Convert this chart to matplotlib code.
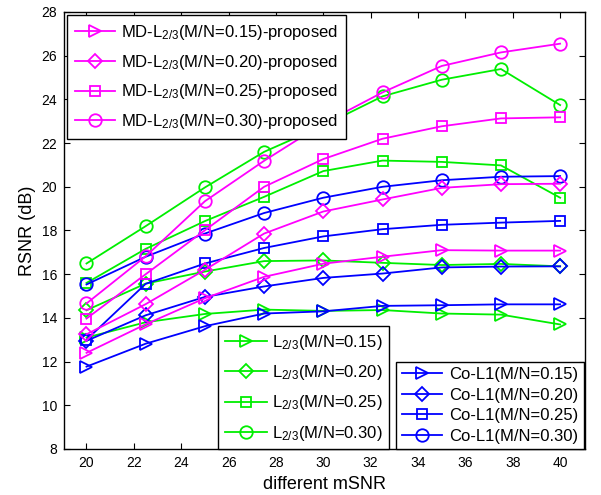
import matplotlib
matplotlib.use("Agg")
import matplotlib.pyplot as plt

plt.rcParams['font.family'] = ['Liberation Sans', 'DejaVu Sans']
plt.rcParams['mathtext.default'] = 'regular'

msnr = [20, 22.5, 25, 27.5, 30, 32.5, 35, 37.5, 40]
ratios = ['0.15', '0.20', '0.25', '0.30']
markers = ['>', 'D', 's', 'o']

# MD-L2/3 proposed (magenta)
md_015 = [12.4, 13.71, 14.9, 15.88, 16.48, 16.8, 17.1, 17.08, 17.08]
md_020 = [13.25, 14.63, 16.2, 17.86, 18.87, 19.42, 19.95, 20.12, 20.14]
md_025 = [13.97, 16.0, 18.01, 20.0, 21.27, 22.2, 22.77, 23.13, 23.18]
md_030 = [14.66, 16.82, 19.34, 21.19, 22.9, 24.32, 25.53, 26.15, 26.55]
# L2/3 (green)
l_015 = [13.1, 13.8, 14.18, 14.38, 14.32, 14.36, 14.2, 14.15, 13.7]
l_020 = [14.35, 15.57, 16.12, 16.6, 16.63, 16.52, 16.42, 16.47, 16.36]
l_025 = [15.6, 17.16, 18.43, 19.54, 20.72, 21.2, 21.14, 20.98, 19.5]
l_030 = [16.49, 18.2, 19.97, 21.6, 22.8, 24.14, 24.9, 25.39, 23.74]
# Co-L1 (blue)
c_015 = [11.77, 12.82, 13.62, 14.2, 14.3, 14.55, 14.58, 14.62, 14.62]
c_020 = [12.95, 14.12, 14.96, 15.44, 15.83, 16.03, 16.31, 16.35, 16.36]
c_025 = [13.0, 15.56, 16.49, 17.2, 17.73, 18.06, 18.26, 18.36, 18.44]
c_030 = [15.53, 16.8, 17.86, 18.8, 19.5, 20.0, 20.3, 20.46, 20.49]

MAG = '#ff00ff'
GRN = '#00ee00'
BLU = '#0000ff'

fig = plt.figure(figsize=(6.01, 4.95), dpi=100)
ax = fig.add_axes([64/601, 1-449/495, (585-64)/601, (449-12)/495])

lw = 1.3
ms = {'>': 9, 'D': 7.5, 's': 7.5, 'o': 9}

def plot_group(series, color, labels):
    handles = []
    for ys, m, lab in zip(series, markers, labels):
        h, = ax.plot(msnr, ys, color=color, marker=m, markersize=ms[m],
                     markerfacecolor='none', markeredgecolor=color,
                     markeredgewidth=lw, linewidth=lw, label=lab)
        handles.append(h)
    return handles

h_l = plot_group([l_015, l_020, l_025, l_030], GRN,
                 [r'L$_{2/3}$(M/N=%s)' % r for r in ratios])
h_c = plot_group([c_015, c_020, c_025, c_030], BLU,
                 ['Co-L1(M/N=%s)' % r for r in ratios])
h_m = plot_group([md_015, md_020, md_025, md_030], MAG,
                 [r'MD-L$_{2/3}$(M/N=%s)-proposed' % r for r in ratios])

ax.set_xlim(19.05, 41.05)
ax.set_ylim(8, 28)
ax.set_xticks(range(20, 41, 2))
ax.set_yticks(range(8, 29, 2))
ax.tick_params(direction='in', top=True, right=True, length=4, width=0.8,
               labelsize=10, pad=5)
for s in ax.spines.values():
    s.set_linewidth(1.0)

ax.set_xlabel('different mSNR', fontsize=13, labelpad=4.5)
ax.set_ylabel('RSNR (dB)', fontsize=13, labelpad=4)

common = dict(frameon=True, fancybox=False, framealpha=1, edgecolor='black',
              numpoints=1, borderaxespad=0, fontsize=12)

leg1 = ax.legend(handles=h_m, loc='upper left', bbox_to_anchor=(0.006, 0.993),
                 labelspacing=0.64, borderpad=0.48, handlelength=2.4,
                 handletextpad=0.36, **common)
leg1.get_frame().set_linewidth(1.0)
ax.add_artist(leg1)

leg2 = ax.legend(handles=h_l, loc='lower left', bbox_to_anchor=(0.296, 0.0),
                 labelspacing=0.68, borderpad=0.38, handlelength=2.55,
                 handletextpad=0.3, **common)
leg2.get_frame().set_linewidth(1.0)
ax.add_artist(leg2)

leg3 = ax.legend(handles=h_c, loc='lower right', bbox_to_anchor=(0.998, 0.0),
                 labelspacing=0.33, borderpad=0.32, handlelength=2.45,
                 handletextpad=0.42, **common)
leg3.get_frame().set_linewidth(1.0)

fig.savefig('out.png', dpi=100)
